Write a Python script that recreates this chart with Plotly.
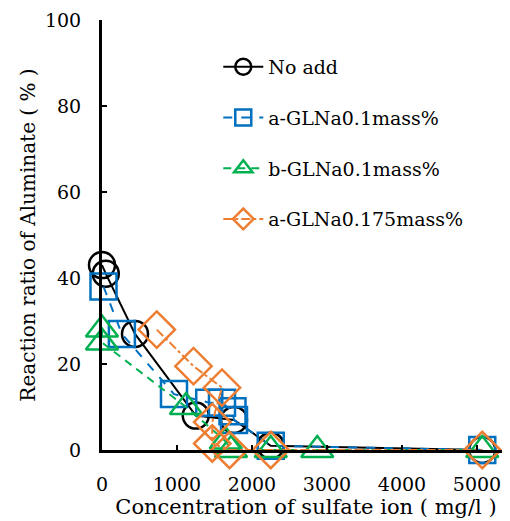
import plotly.graph_objects as go

# No add
x_noadd = [0, 50, 440, 1250, 1760, 2250, 5070]
y_noadd = [43, 41, 27, 8, 7, 1, 0]
# a-GLNa0.1mass%
x_a01 = [20, 265, 960, 1430, 1600, 1740, 1760, 2250, 5070]
y_a01 = [38, 27, 13, 11, 11, 9, 7, 1, 0]
# b-GLNa0.1mass%
x_b01 = [0, 0, 1120, 1650, 1720, 2250, 2870, 5070]
y_b01 = [28, 25, 10, 2, 0, 0, 0, 0]
# a-GLNa0.175mass%
x_a0175 = [730, 1220, 1600, 1470, 1470, 1700, 2250, 5070]
y_a0175 = [28, 19.5, 14.5, 6.5, 1.5, 0, 0, 0]

names = ["No add", "a-GLNa0.1mass%", "b-GLNa0.1mass%", "a-GLNa0.175mass%"]
colors = ["#000000", "#0070C0", "#00B050", "#ED7D31"]
symbols = ["circle-open", "square-open", "triangle-up-open", "diamond-open"]
dashes = ["solid", "dash", "8px,6px", "dashdot"]
sizes = [26, 26, 28, 28]
xs = [x_noadd, x_a01, x_b01, x_a0175]
ys = [y_noadd, y_a01, y_b01, y_a0175]

fig = go.Figure()
for i in range(4):
    fig.add_trace(go.Scatter(
        x=xs[i], y=ys[i], name=names[i], mode="lines+markers",
        legendgroup=f"g{i}",
        line=dict(color=colors[i], width=2, dash=dashes[i]),
        marker=dict(symbol=symbols[i], size=sizes[i], color=colors[i],
                    line=dict(color=colors[i], width=2.5)),
        cliponaxis=False,
    ))

font = "DejaVu Serif"
fig.update_layout(
    width=510, height=521,
    margin=dict(l=94, r=8, t=12, b=79, autoexpand=False),
    paper_bgcolor="white", plot_bgcolor="white",
    font=dict(family=font, size=19, color="black"),
    showlegend=True,
    legend=dict(x=0.285, y=0.935, xanchor="left", yanchor="top",
                bgcolor="rgba(0,0,0,0)", font=dict(size=19, family=font),
                tracegroupgap=23, itemwidth=40),
    xaxis=dict(range=[0, 5440], tickvals=[0, 1000, 2000, 3000, 4000, 5000],
               automargin=False,
               showgrid=False, zeroline=False, showline=True, linecolor="black",
               linewidth=3, ticks="inside", ticklen=5, tickwidth=2, tickcolor="black",
               ticklabelstandoff=15,
               title=dict(text="Concentration of sulfate ion ( mg/l )",
                          font=dict(size=21, family=font), standoff=2)),
    yaxis=dict(range=[0, 100], tickvals=[0, 20, 40, 60, 80, 100],
               automargin=False,
               showgrid=False, zeroline=False, showline=True, linecolor="black",
               linewidth=3, ticks="inside", ticklen=5, tickwidth=2, tickcolor="black",
               ticklabelstandoff=14,
               title=dict(text="Reaction ratio of Aluminate ( % )",
                          font=dict(size=20, family=font), standoff=4)),
)
fig.write_html("out.html")
